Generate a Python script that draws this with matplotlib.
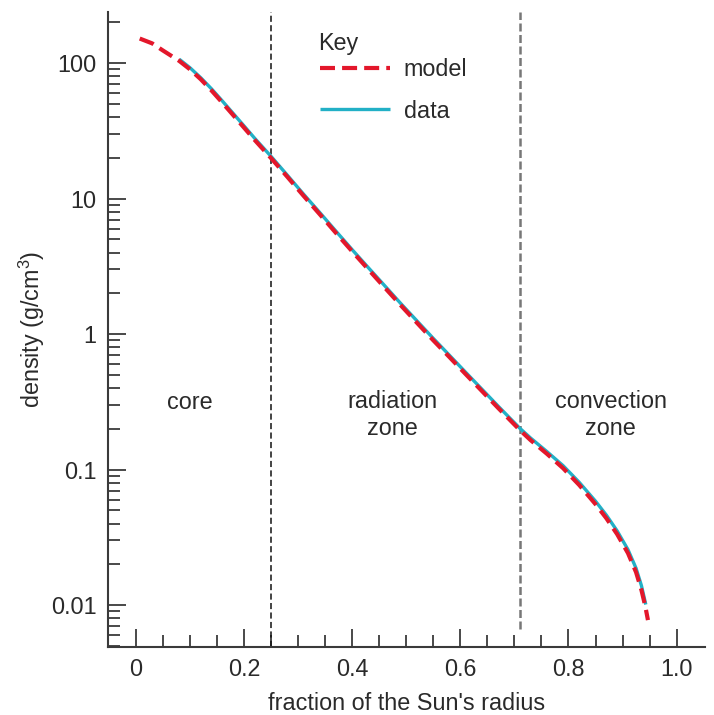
import numpy as np
import matplotlib
matplotlib.use("Agg")
import matplotlib.pyplot as plt
from matplotlib.ticker import FixedLocator, FuncFormatter, LogLocator, NullFormatter

plt.rcParams['font.family'] = ['Liberation Sans', 'DejaVu Sans']
plt.rcParams['mathtext.fontset'] = 'custom'
plt.rcParams['mathtext.rm'] = 'Liberation Sans'

# model density profile
r_model = [0.007, 0.03, 0.05, 0.08, 0.10, 0.12, 0.14, 0.16, 0.18, 0.20, 0.22, 0.25,
           0.28, 0.31, 0.34, 0.37, 0.40, 0.43, 0.46, 0.49, 0.52, 0.55, 0.58, 0.61,
           0.64, 0.67, 0.71, 0.73, 0.76, 0.79, 0.82, 0.85, 0.87, 0.89, 0.91, 0.925,
           0.935, 0.942, 0.947]
rho_model = [152, 140, 124, 104, 90, 76, 62.7, 51, 41.3, 33.4, 27, 19.9,
             14.5, 10.5, 7.67, 5.58, 4.08, 3.0, 2.21, 1.63, 1.21, 0.90, 0.676, 0.506,
             0.380, 0.285, 0.196, 0.165, 0.131, 0.1025, 0.0769, 0.0556, 0.0438, 0.0334, 0.0242, 0.0175,
             0.0129, 0.00984, 0.00775]

# helioseismic data
r_data = [0.08, 0.10, 0.12, 0.14, 0.16, 0.18, 0.20, 0.22, 0.25, 0.28, 0.31, 0.34,
          0.37, 0.40, 0.43, 0.46, 0.49, 0.52, 0.55, 0.58, 0.61, 0.64, 0.67, 0.71,
          0.73, 0.76, 0.79, 0.82, 0.85, 0.87, 0.89, 0.91, 0.925, 0.935, 0.943]
rho_data = [107, 92.5, 78, 64.5, 52.5, 42.5, 34.4, 27.8, 20.5, 14.9, 10.8, 7.9,
            5.75, 4.2, 3.09, 2.28, 1.68, 1.25, 0.93, 0.697, 0.522, 0.392, 0.294, 0.202,
            0.171, 0.136, 0.107, 0.0805, 0.0585, 0.0462, 0.0353, 0.0257, 0.0187, 0.0139, 0.0101]

zone_bounds = [0.25, 0.71]
zone_names = ["core", "radiation\nzone", "convection\nzone"]
zone_x = [0.099, 0.475, 0.878]
zone_y = [0.315, 0.252, 0.252]

x_major = [0, 0.2, 0.4, 0.6, 0.8, 1.0]
x_labels = ["0", "0.2", "0.4", "0.6", "0.8", "1.0"]

red = "#e3172b"
cyan = "#22b0c6"
ink = "#2a2a2a"
fs = 16.8

fig = plt.figure(figsize=(7.14, 7.15), dpi=100)
ax = fig.add_axes([0.151, 0.095, 0.836, 0.888])

ax.plot(r_data, rho_data, color=cyan, lw=2.4, solid_capstyle="butt", label="data", zorder=3)
ax.plot(r_model, rho_model, color=red, lw=3.0, dashes=(3.6, 1.7), label="model", zorder=4)

ax.axvline(zone_bounds[0], color="#111111", lw=1.1, dashes=(4, 2.2), zorder=2)
ax.axvline(zone_bounds[1], color="#777777", lw=1.8, dashes=(3.2, 1.4), ymin=0.028, zorder=2)

for x, y, name in zip(zone_x, zone_y, zone_names):
    ax.text(x, y, name, ha="center", va="center", fontsize=fs, color=ink,
            linespacing=1.2)

ax.set_yscale("log")
ax.set_xlim(-0.052, 1.052)
ax.set_ylim(0.0049, 238)

ax.xaxis.set_major_locator(FixedLocator(x_major))
ax.set_xticklabels(x_labels)
ax.xaxis.set_minor_locator(FixedLocator(np.arange(0.05, 1.0, 0.05)))
ax.yaxis.set_major_locator(LogLocator(base=10, numticks=10))
ax.yaxis.set_minor_locator(LogLocator(base=10, subs=np.arange(2, 10), numticks=20))
ax.yaxis.set_major_formatter(FuncFormatter(lambda v, p: "{:g}".format(v)))
ax.yaxis.set_minor_formatter(NullFormatter())

for s in ["top", "right"]:
    ax.spines[s].set_visible(False)
for s in ["left", "bottom"]:
    ax.spines[s].set_color("#3a3a3a")
    ax.spines[s].set_linewidth(1.5)

ax.tick_params(which="both", direction="in", color="#3a3a3a", width=1.3,
               labelsize=fs, labelcolor=ink, pad=8)
ax.tick_params(which="major", length=13)
ax.tick_params(which="minor", length=8.5)

ax.set_xlabel("fraction of the Sun's radius", fontsize=fs, color=ink, labelpad=8)
ax.set_ylabel(r"density (g/cm$^{\mathregular{3}}$)", fontsize=fs, color=ink, labelpad=3)

# key
ax.text(0.352, 0.95, "Key", transform=ax.transAxes, fontsize=fs, color=ink,
        ha="left", va="center")
handles, labels = ax.get_legend_handles_labels()
leg = ax.legend(handles[::-1], labels[::-1], loc="upper left",
                bbox_to_anchor=(0.355, 0.928), frameon=False, fontsize=fs,
                handlelength=3.0, handletextpad=0.6, labelspacing=0.8,
                borderpad=0, borderaxespad=0)
for t in leg.get_texts():
    t.set_color(ink)

fig.savefig("out.png", dpi=100)
